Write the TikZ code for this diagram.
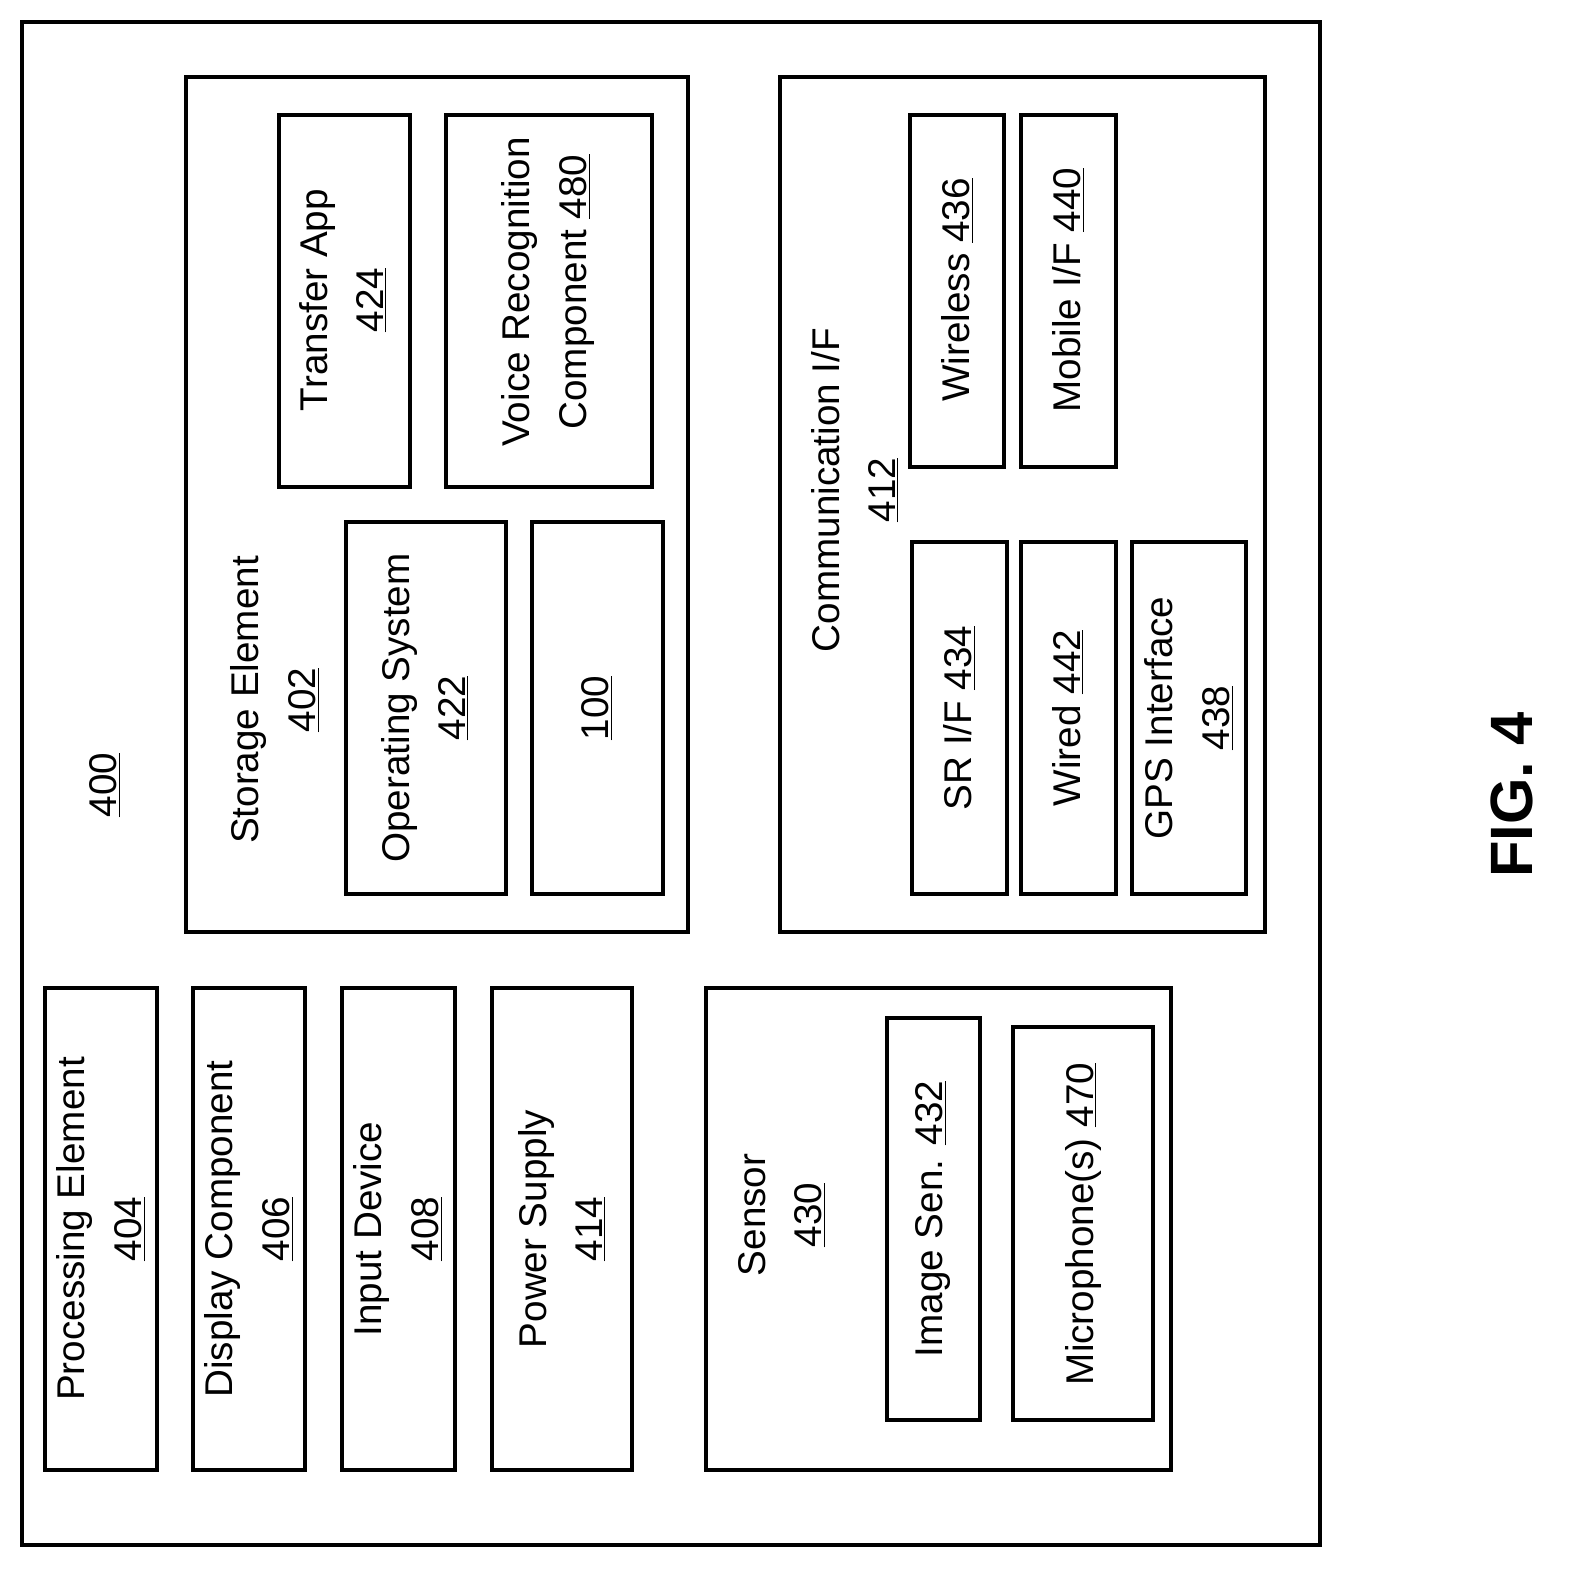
\documentclass[tikz,border=0pt]{standalone}
\usepackage{fontspec}
\setmainfont{Liberation Sans}
\tikzset{
	box/.style={line width=1.8pt},
	lbl/.style={rotate=90,align=center,font=\fontsize{22}{32}\selectfont},
}
\begin{document}
\begin{tikzpicture}[x=0.02cm,y=-0.02cm]
	\useasboundingbox (0,0) rectangle (1572,1583);
	%outer
	\draw[box] (22,22) rectangle (1320,1545);
	\node[lbl] (dev) at (105,785) {\underline{400}};
	%storage
	\draw[box] (186,77) rectangle (688,932);
	\node[lbl] (stor) at (275,700) {Storage Element\\\underline{402}};
	\draw[box] (279,115) rectangle (410,487);
	\node[lbl] (xfer) at (343,300) {Transfer App\\\underline{424}};
	\draw[box] (446,115) rectangle (652,487);
	\node[lbl] (voice) at (548,292) {Voice Recognition\\Component \underline{480}};
	\draw[box] (346,522) rectangle (506,894);
	\node[lbl] (os) at (425,708) {Operating System\\\underline{422}};
	\draw[box] (532,522) rectangle (663,894);
	\node[lbl] (sys) at (597,708) {\underline{100}};
	%communication
	\draw[box] (780,77) rectangle (1265,932);
	\node[lbl] (comm) at (855,490) {Communication I/F\\\underline{412}};
	\draw[box] (910,115) rectangle (1004,467);
	\node[lbl] (wless) at (957,290) {Wireless \underline{436}};
	\draw[box] (1021,115) rectangle (1116,467);
	\node[lbl] (mob) at (1068,290) {Mobile I/F \underline{440}};
	\draw[box] (912,542) rectangle (1007,894);
	\node[lbl] (sr) at (959,718) {SR I/F \underline{434}};
	\draw[box] (1021,542) rectangle (1116,894);
	\node[lbl] (wired) at (1068,718) {Wired \underline{442}};
	\draw[box] (1132,542) rectangle (1246,894);
	\node[lbl] (gps) at (1189,718) {GPS Interface\\\underline{438}};
	%left column
	\draw[box] (45,988) rectangle (157,1470);
	\node[lbl] (proc) at (101,1229) {Processing Element\\\underline{404}};
	\draw[box] (193,988) rectangle (305,1470);
	\node[lbl] (disp) at (249,1229) {Display Component\\\underline{406}};
	\draw[box] (342,988) rectangle (455,1470);
	\node[lbl] (inp) at (398,1229) {Input Device\\\underline{408}};
	\draw[box] (492,988) rectangle (632,1470);
	\node[lbl] (pwr) at (562,1229) {Power Supply\\\underline{414}};
	%sensor
	\draw[box] (706,988) rectangle (1171,1470);
	\node[lbl] (sens) at (782,1215) {Sensor\\\underline{430}};
	\draw[box] (887,1018) rectangle (980,1420);
	\node[lbl] (img) at (933,1219) {Image Sen. \underline{432}};
	\draw[box] (1013,1027) rectangle (1153,1420);
	\node[lbl] (mic) at (1083,1224) {Microphone(s) \underline{470}};
	%figure
	\node[rotate=90,font=\fontsize{34}{40}\selectfont\bfseries] (fig) at (1512,795) {FIG. 4};
\end{tikzpicture}
\end{document}
